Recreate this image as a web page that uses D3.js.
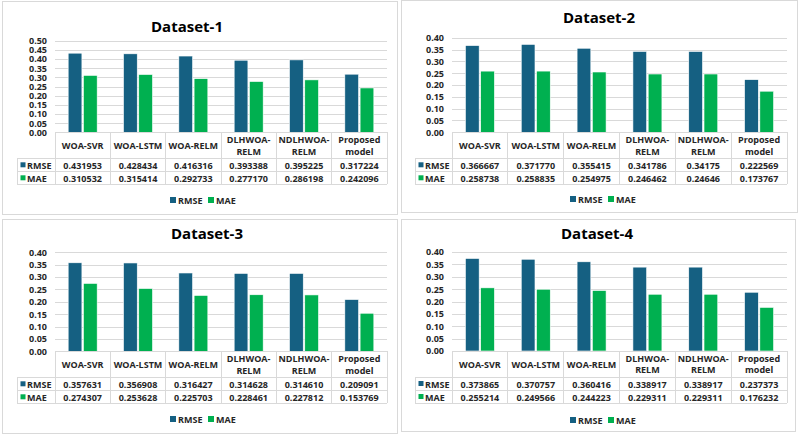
<!DOCTYPE html>
<html>
<head>
<meta charset="utf-8">
<script src="https://cdn.jsdelivr.net/npm/d3@7"></script>
<style>
html,body{margin:0;padding:0;background:#fff;}
svg{display:block;font-family:"Open Sans","Noto Sans",sans-serif;}
</style>
</head>
<body>
<script>
// ---------- DATA ----------
const categories = ["WOA-SVR","WOA-LSTM","WOA-RELM","DLHWOA-RELM","NDLHWOA-RELM","Proposed model"];
const categoryLines = [["WOA-SVR"],["WOA-LSTM"],["WOA-RELM"],["DLHWOA-","RELM"],["NDLHWOA-","RELM"],["Proposed","model"]];
const seriesNames = ["RMSE","MAE"];
const datasetTitles = ["Dataset-1","Dataset-2","Dataset-3","Dataset-4"];

const rmse1 = ["0.431953","0.428434","0.416316","0.393388","0.395225","0.317224"];
const mae1  = ["0.310532","0.315414","0.292733","0.277170","0.286198","0.242096"];
const rmse2 = ["0.366667","0.371770","0.355415","0.341786","0.34175","0.222569"];
const mae2  = ["0.258738","0.258835","0.254975","0.246462","0.24646","0.173767"];
const rmse3 = ["0.357631","0.356908","0.316427","0.314628","0.314610","0.209091"];
const mae3  = ["0.274307","0.253628","0.225703","0.228461","0.227812","0.153769"];
const rmse4 = ["0.373865","0.370757","0.360416","0.338917","0.338917","0.237373"];
const mae4  = ["0.255214","0.249566","0.244223","0.229311","0.229311","0.176232"];

const yTicks050 = ["0.00","0.05","0.10","0.15","0.20","0.25","0.30","0.35","0.40","0.45","0.50"];
const yTicks040 = ["0.00","0.05","0.10","0.15","0.20","0.25","0.30","0.35","0.40"];

const colors = {RMSE:"#156082", MAE:"#00B050"};

// ---------- LAYOUT ----------
const panels = [
  {title:datasetTitles[0], rmse:rmse1, mae:mae1, ticks:yTicks050,
   box:[2,1,395,213], tx:187, ty:26, top:40.7, bottom:132.3, left:55, right:387, keyLeft:17, legY:200, legX:201},
  {title:datasetTitles[1], rmse:rmse2, mae:mae2, ticks:yTicks040,
   box:[401,0,396,212], tx:599, ty:17, top:37.7, bottom:132.3, left:452, right:787, keyLeft:415, legY:199, legX:601},
  {title:datasetTitles[2], rmse:rmse3, mae:mae3, ticks:yTicks040,
   box:[2,219,395,214], tx:207, ty:233, top:252.3, bottom:351.3, left:55, right:387, keyLeft:17, legY:419, legX:201},
  {title:datasetTitles[3], rmse:rmse4, mae:mae4, ticks:yTicks040,
   box:[401,219,394,212], tx:597, ty:233, top:252, bottom:351, left:452, right:787, keyLeft:415, legY:420, legX:601}
];

const svg = d3.select("body").append("svg").attr("width",799).attr("height",436);
svg.append("rect").attr("width",799).attr("height",436).attr("fill","#fff");

const textColor = "#262626";
const lineColor = "#d9d9d9";

function drawPanel(p){
  const g = svg.append("g");
  g.append("rect").attr("x",p.box[0]+0.5).attr("y",p.box[1]+0.5)
    .attr("width",p.box[2]).attr("height",p.box[3])
    .attr("fill","#fff").attr("stroke","#d9d9d9").attr("stroke-width",1);

  g.append("text").attr("x",p.tx).attr("y",p.ty).attr("text-anchor","middle")
    .attr("dominant-baseline","central").attr("font-size",15).attr("font-weight","bold")
    .attr("fill","#000").text(p.title);

  const tickVals = p.ticks.map(Number);
  const ymax = d3.max(tickVals);
  const y = d3.scaleLinear().domain([0,ymax]).range([p.bottom,p.top]);
  const x0 = d3.scaleBand().domain(categories).range([p.left,p.right]);
  const groupW = 29;
  const x1 = d3.scaleBand().domain(seriesNames)
    .range([(x0.bandwidth()-groupW)/2,(x0.bandwidth()+groupW)/2]).paddingInner(0.1);

  // gridlines + labels via axis
  const axis = d3.axisLeft(y).tickValues(tickVals).tickFormat((d,i)=>p.ticks[i])
    .tickSize(-(p.right-p.left)).tickPadding(8);
  const ag = g.append("g").attr("transform",`translate(${p.left},0)`).call(axis);
  ag.select(".domain").remove();
  ag.selectAll(".tick line").attr("stroke",lineColor).attr("stroke-width",1)
    .attr("shape-rendering","crispEdges");
  ag.selectAll(".tick text").attr("font-size",9).attr("font-weight","bold")
    .attr("fill",textColor).attr("font-family",'"Open Sans","Noto Sans",sans-serif');

  // bars
  const rows = categories.map((c,i)=>({cat:c, RMSE:+p.rmse[i], MAE:+p.mae[i]}));
  const bg = g.append("g");
  rows.forEach(r=>{
    seriesNames.forEach(s=>{
      bg.append("rect")
        .attr("x",x0(r.cat)+x1(s)).attr("width",x1.bandwidth())
        .attr("y",y(r[s])).attr("height",y(0)-y(r[s]))
        .attr("fill",colors[s]).attr("stroke","#fff").attr("stroke-width",0.6);
    });
  });

  // data table
  const catBottom = p.bottom + 26;
  const rowH = 13;
  const rmseTop = catBottom, maeTop = catBottom + rowH, tblBottom = catBottom + 2*rowH;
  const tl = g.append("g").attr("stroke",lineColor).attr("stroke-width",1).attr("shape-rendering","crispEdges");
  tl.append("line").attr("x1",p.left).attr("x2",p.right).attr("y1",p.bottom).attr("y2",p.bottom);
  [rmseTop,maeTop,tblBottom].forEach(yy=>{
    tl.append("line").attr("x1",p.keyLeft).attr("x2",p.right).attr("y1",yy).attr("y2",yy);
  });
  categories.forEach(c=>{
    tl.append("line").attr("x1",x0(c)).attr("x2",x0(c)).attr("y1",p.bottom).attr("y2",tblBottom);
  });
  tl.append("line").attr("x1",p.right).attr("x2",p.right).attr("y1",p.bottom).attr("y2",tblBottom);
  tl.append("line").attr("x1",p.keyLeft).attr("x2",p.keyLeft).attr("y1",rmseTop).attr("y2",tblBottom);

  const tt = g.append("g").attr("font-size",9).attr("font-weight","bold").attr("fill",textColor)
    .attr("text-anchor","middle").attr("dominant-baseline","central");
  categories.forEach((c,i)=>{
    const cx = x0(c)+x0.bandwidth()/2;
    const lines = categoryLines[i];
    const cy = p.bottom + 13;
    lines.forEach((ln,j)=>{
      tt.append("text").attr("x",cx).attr("y",cy + (j-(lines.length-1)/2)*11.5).text(ln);
    });
    tt.append("text").attr("x",cx).attr("y",rmseTop+rowH/2+0.5).text(p.rmse[i]);
    tt.append("text").attr("x",cx).attr("y",maeTop+rowH/2+0.5).text(p.mae[i]);
  });
  // key column
  [[rmseTop,"RMSE"],[maeTop,"MAE"]].forEach(([yy,s])=>{
    g.append("rect").attr("x",p.keyLeft+3.5).attr("y",yy+rowH/2-2.5).attr("width",5).attr("height",5).attr("fill",colors[s]);
    g.append("text").attr("x",p.keyLeft+10).attr("y",yy+rowH/2+0.5).attr("dominant-baseline","central")
      .attr("font-size",9).attr("font-weight","bold").attr("fill",textColor).text(s);
  });

  // legend
  const lg = g.append("g").attr("transform",`translate(${p.legX},${p.legY})`);
  const items = [{s:"RMSE",x:-31},{s:"MAE",x:7}];
  items.forEach(it=>{
    lg.append("rect").attr("x",it.x).attr("y",-3).attr("width",6).attr("height",6).attr("fill",colors[it.s]);
    lg.append("text").attr("x",it.x+8).attr("y",0.5).attr("dominant-baseline","central")
      .attr("font-size",9).attr("font-weight","bold").attr("fill",textColor).text(it.s);
  });
}

panels.forEach(drawPanel);
</script>
</body>
</html>
